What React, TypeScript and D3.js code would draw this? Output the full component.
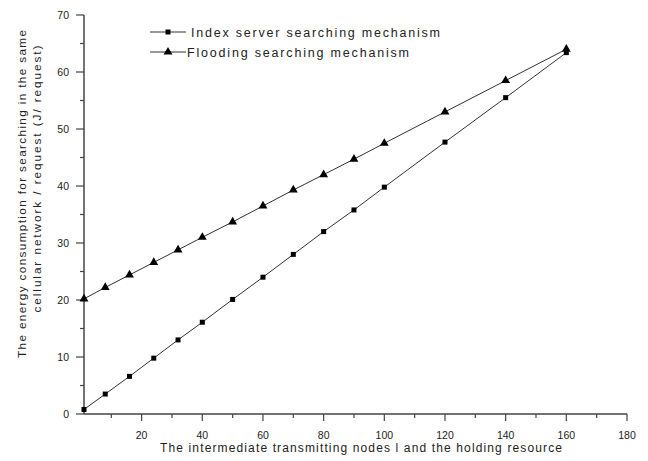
import React, { useRef, useEffect } from 'react';
import * as d3 from 'd3';

const nodes = [1, 8, 16, 24, 32, 40, 50, 60, 70, 80, 90, 100, 120, 140, 160];
const indexServer = [0.8, 3.5, 6.6, 9.8, 13, 16.1, 20.1, 24, 28, 32, 35.8, 39.8, 47.7, 55.5, 63.4];
const flooding = [20.2, 22.2, 24.4, 26.6, 28.8, 31, 33.7, 36.5, 39.3, 42, 44.7, 47.5, 53, 58.5, 64];
const xMajorTicks = [20, 40, 60, 80, 100, 120, 140, 160, 180];
const xMinorTicks = [10, 30, 50, 70, 90, 110, 130, 150, 170];
const yMajorTicks = [0, 10, 20, 30, 40, 50, 60, 70];
const yMinorTicks = [5, 15, 25, 35, 45, 55, 65];
const seriesNames = ['Index server searching mechanism', 'Flooding searching mechanism'];

const FONT = 'Liberation Sans, Arial, sans-serif';

const App = () => {
  const chartRef = useRef(null);

  useEffect(() => {
    if (!chartRef.current) return;
    const width = 648;
    const height = 461;
    const svg = d3.select(chartRef.current)
      .attr('width', width)
      .attr('height', height)
      .html('');

    const x = d3.scaleLinear().domain([1, 180]).range([84, 627]);
    const y = d3.scaleLinear().domain([0, 70]).range([414, 15]);
    const axisColor = '#444';

    // x axis
    const xAxis = svg.append('g').attr('transform', `translate(0,${y(0)})`);
    xAxis.append('line')
      .attr('x1', x(1)).attr('x2', x(180))
      .attr('stroke', axisColor).attr('stroke-width', 1.5);
    xAxis.selectAll('.xmaj').data(xMajorTicks).enter().append('line')
      .attr('x1', d => x(d)).attr('x2', d => x(d))
      .attr('y1', 0).attr('y2', 7)
      .attr('stroke', axisColor).attr('stroke-width', 1.2);
    xAxis.selectAll('.xmin').data(xMinorTicks).enter().append('line')
      .attr('x1', d => x(d)).attr('x2', d => x(d))
      .attr('y1', 0).attr('y2', 4)
      .attr('stroke', axisColor).attr('stroke-width', 1.2);
    xAxis.selectAll('text').data(xMajorTicks).enter().append('text')
      .attr('x', d => x(d))
      .attr('y', 25)
      .attr('text-anchor', 'middle')
      .attr('font-family', FONT)
      .attr('font-size', '10.5px')
      .attr('fill', '#222')
      .text(d => d);

    // y axis
    const yAxis = svg.append('g').attr('transform', `translate(${x(1)},0)`);
    yAxis.append('line')
      .attr('y1', y(0)).attr('y2', y(70))
      .attr('stroke', axisColor).attr('stroke-width', 1.5);
    yAxis.selectAll('.ymaj').data(yMajorTicks).enter().append('line')
      .attr('y1', d => y(d)).attr('y2', d => y(d))
      .attr('x1', 0).attr('x2', -8)
      .attr('stroke', axisColor).attr('stroke-width', 1.2);
    yAxis.selectAll('.ymin').data(yMinorTicks).enter().append('line')
      .attr('y1', d => y(d)).attr('y2', d => y(d))
      .attr('x1', 0).attr('x2', -4)
      .attr('stroke', axisColor).attr('stroke-width', 1.2);
    yAxis.selectAll('text').data(yMajorTicks).enter().append('text')
      .attr('x', -15)
      .attr('y', d => y(d) + 4)
      .attr('text-anchor', 'end')
      .attr('font-family', FONT)
      .attr('font-size', '10.5px')
      .attr('fill', '#222')
      .text(d => d);

    // axis titles
    svg.append('text')
      .attr('x', 361).attr('y', 452)
      .attr('text-anchor', 'middle')
      .attr('font-family', FONT)
      .attr('font-size', '12px')
      .attr('fill', '#222')
      .attr('textLength', 402)
      .attr('lengthAdjust', 'spacing')
      .text('The intermediate transmitting nodes l and the holding resource');

    svg.append('text')
      .attr('transform', 'translate(26,194) rotate(-90)')
      .attr('text-anchor', 'middle')
      .attr('font-family', FONT)
      .attr('font-size', '11.8px')
      .attr('fill', '#222')
      .attr('textLength', 328)
      .attr('lengthAdjust', 'spacing')
      .text('The energy consumption for searching in the same');

    svg.append('text')
      .attr('transform', 'translate(41,179) rotate(-90)')
      .attr('text-anchor', 'middle')
      .attr('font-family', FONT)
      .attr('font-size', '11.8px')
      .attr('fill', '#222')
      .attr('textLength', 267)
      .attr('lengthAdjust', 'spacing')
      .text('cellular network / request (J/ request)');

    // lines
    const line = d3.line<number>()
      .x((_, i) => x(nodes[i]))
      .y(d => y(d));

    [indexServer, flooding].forEach(series => {
      svg.append('path')
        .datum(series)
        .attr('d', line)
        .attr('fill', 'none')
        .attr('stroke', '#333')
        .attr('stroke-width', 1);
    });

    // markers
    const triangle = d3.symbol().type(d3.symbolTriangle).size(34);
    svg.selectAll('.sq').data(indexServer).enter().append('rect')
      .attr('x', (_, i) => x(nodes[i]) - 2.5)
      .attr('y', d => y(d) - 2.5)
      .attr('width', 5).attr('height', 5)
      .attr('fill', '#000');
    svg.selectAll('.tri').data(flooding).enter().append('path')
      .attr('d', triangle)
      .attr('transform', (d, i) => `translate(${x(nodes[i])},${y(d)})`)
      .attr('fill', '#000');

    // legend
    const legend = svg.append('g');
    const legendRows = [
      { name: seriesNames[0], y: 32, textX: 191, len: 249, marker: 'square' },
      { name: seriesNames[1], y: 52, textX: 187, len: 222, marker: 'triangle' },
    ];
    legendRows.forEach(r => {
      legend.append('line')
        .attr('x1', 150).attr('x2', 186)
        .attr('y1', r.y).attr('y2', r.y)
        .attr('stroke', '#333').attr('stroke-width', 1);
      if (r.marker === 'square') {
        legend.append('rect')
          .attr('x', 168 - 2.5).attr('y', r.y - 2.5)
          .attr('width', 5).attr('height', 5)
          .attr('fill', '#000');
      } else {
        legend.append('path')
          .attr('d', triangle)
          .attr('transform', `translate(168,${r.y})`)
          .attr('fill', '#000');
      }
      legend.append('text')
        .attr('x', r.textX).attr('y', r.y + 4.5)
        .attr('font-family', FONT)
        .attr('font-size', '12.5px')
        .attr('fill', '#222')
        .attr('textLength', r.len)
        .attr('lengthAdjust', 'spacing')
        .text(r.name);
    });
  }, []);

  return (
    <div style={{ position: 'absolute', left: 0, top: 0, width: 648, height: 461, background: '#fff' }}>
      <svg ref={chartRef} style={{ display: 'block' }}></svg>
    </div>
  );
};

export default App;
